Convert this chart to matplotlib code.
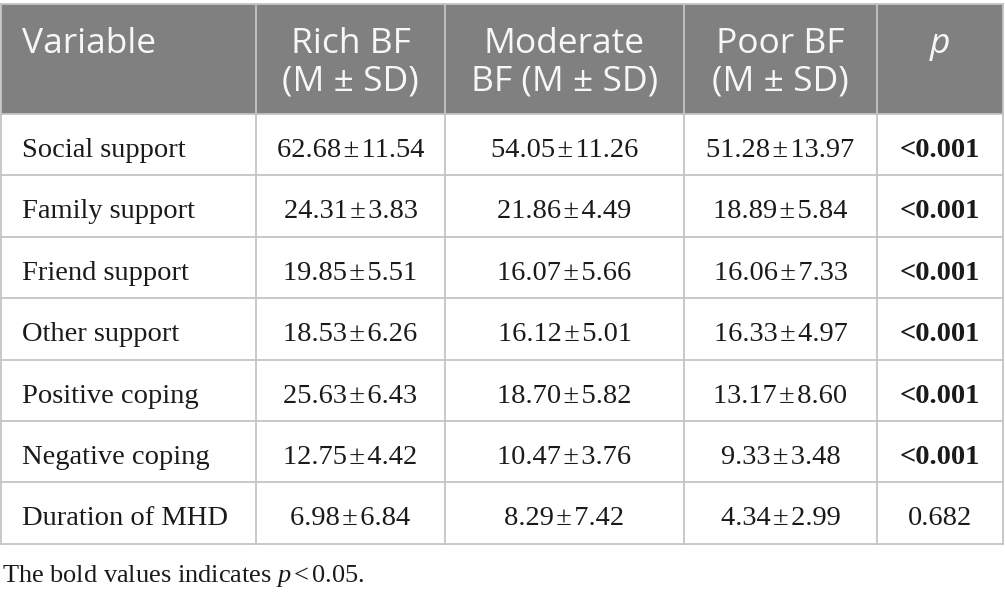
import matplotlib
matplotlib.use("Agg")
import matplotlib.pyplot as plt

plt.rcParams['mathtext.fontset'] = 'custom'
plt.rcParams['mathtext.rm'] = 'Liberation Serif'
plt.rcParams['mathtext.it'] = 'Liberation Serif:italic'

# table data
variables = ["Social support", "Family support", "Friend support", "Other support",
             "Positive coping", "Negative coping", "Duration of MHD"]
rich_m = ["62.68", "24.31", "19.85", "18.53", "25.63", "12.75", "6.98"]
rich_sd = ["11.54", "3.83", "5.51", "6.26", "6.43", "4.42", "6.84"]
mod_m = ["54.05", "21.86", "16.07", "16.12", "18.70", "10.47", "8.29"]
mod_sd = ["11.26", "4.49", "5.66", "5.01", "5.82", "3.76", "7.42"]
poor_m = ["51.28", "18.89", "16.06", "16.33", "13.17", "9.33", "4.34"]
poor_sd = ["13.97", "5.84", "7.33", "4.97", "8.60", "3.48", "2.99"]
p_vals = ["<0.001", "<0.001", "<0.001", "<0.001", "<0.001", "<0.001", "0.682"]
p_bold = [True, True, True, True, True, True, False]

headers = [("Variable", ""), ("Rich BF", "(M \u00b1 SD)"), ("Moderate", "BF (M \u00b1 SD)"),
           ("Poor BF", "(M \u00b1 SD)"), ("p", "")]

# layout (pixels)
W, H = 1005, 596
col_x = [1, 256, 445, 684, 877, 1003]
top = 4
head_bot = 114
row_h = 61.4
line_col = "#c4c4c4"
head_bg = "#808080"
txt_col = "#1a1a1a"
serif = ["Liberation Serif", "DejaVu Serif"]
sans = ["Open Sans", "DejaVu Sans"]
hfs = 25.5
bfs = 20.5
pm = "\u200a\u00b1\u200a"

fig = plt.figure(figsize=(W / 100, H / 100), dpi=100)
ax = fig.add_axes([0, 0, 1, 1])
ax.set_xlim(0, W)
ax.set_ylim(H, 0)
ax.axis("off")

n = len(variables)
bottom = head_bot + n * row_h

# header background
ax.add_patch(plt.Rectangle((col_x[0], top), col_x[-1] - col_x[0], head_bot - top,
                           facecolor=head_bg, edgecolor="none"))

# grid lines
for x in col_x:
    ax.plot([x, x], [top, bottom], color=line_col, lw=1.3)
for i in range(n + 1):
    y = head_bot + i * row_h
    ax.plot([col_x[0], col_x[-1]], [y, y], color=line_col, lw=1.3)
ax.plot([col_x[0], col_x[-1]], [top, top], color=line_col, lw=1.3)

# header text
hkw = dict(color="#f7f7f7", fontsize=hfs, family=sans, va="baseline")
for j, (l1, l2) in enumerate(headers):
    if j == 0:
        ax.text(22, 53, l1, ha="left", **hkw)
        continue
    cx = (col_x[j] + col_x[j + 1]) / 2
    style = "italic" if l1 == "p" else "normal"
    ax.text(cx, 53, l1, ha="center", style=style, **hkw)
    if l2:
        ax.text(cx, 90, l2, ha="center", **hkw)

# body text
for i in range(n):
    by = head_bot + i * row_h + 43
    ax.text(22, by, variables[i], ha="left", va="baseline", fontsize=bfs, family=serif,
            color=txt_col)
    cells = [rich_m[i] + pm + rich_sd[i],
             mod_m[i] + pm + mod_sd[i],
             poor_m[i] + pm + poor_sd[i]]
    for j, s in enumerate(cells):
        cx = (col_x[j + 1] + col_x[j + 2]) / 2
        ax.text(cx, by, s, ha="center", va="baseline", fontsize=bfs, family=serif,
                color=txt_col)
    cx = (col_x[4] + col_x[5]) / 2
    ax.text(cx, by, p_vals[i], ha="center", va="baseline", fontsize=bfs, family=serif,
            weight="bold" if p_bold[i] else "normal", color=txt_col)

ax.text(2, 582, r"The bold values indicates $\mathit{p}\,$<$\,$0.05.", ha="left",
        va="baseline", fontsize=19, family=serif, color=txt_col)

fig.savefig("out.png", dpi=100)
